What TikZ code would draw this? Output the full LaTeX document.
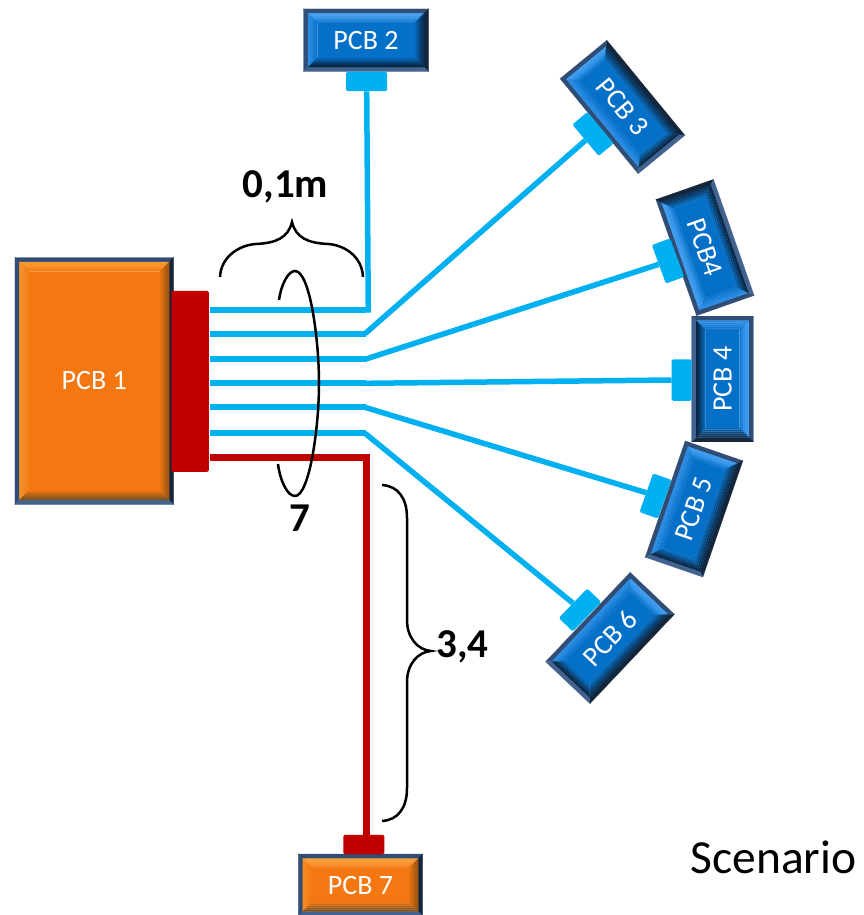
\documentclass[tikz,border=0pt]{standalone}
\usepackage{fontspec}
\setmainfont{Carlito}
\definecolor{wireblue}{HTML}{00B0F0}
\definecolor{wirered}{HTML}{C00000}
\definecolor{rimT}{HTML}{2F4D75}
\definecolor{rimL}{HTML}{2F4D75}
\definecolor{rimR}{HTML}{14263C}
\definecolor{rimB}{HTML}{426390}
\definecolor{blface}{HTML}{0570C8}
\definecolor{blT}{HTML}{3E9DF0}
\definecolor{blL}{HTML}{2A8CE4}
\definecolor{blR}{HTML}{0A3358}
\definecolor{blB}{HTML}{0A2744}
\definecolor{orface}{HTML}{F47711}
\definecolor{orT}{HTML}{FB9A30}
\definecolor{orL}{HTML}{F58A20}
\definecolor{orR}{HTML}{A05810}
\definecolor{orB}{HTML}{7E5420}
\tikzset{
  wireB/.style={draw=wireblue,line width=6pt},
  wireBthin/.style={draw=wireblue,line width=5.5pt},
  wireR/.style={draw=wirered,line width=6.5pt},
  plug/.style={rectangle,rounded corners=1.5pt,inner sep=0pt,minimum width=41pt,minimum height=19.5pt},
  plugB/.style={plug,fill=wireblue},
  plugR/.style={plug,fill=wirered},
  pcblabel/.style={text=white,inner sep=0pt,font=\fontsize{28}{30}\selectfont},
  curly/.style={draw=black,line width=2.5pt},
  dim/.style={text=black,inner sep=0pt,font=\fontsize{41}{44}\selectfont\bfseries}
}
\newcommand\pcbbox[9]{%
  \begin{scope}[shift={(#2,#3)},rotate=#6]
    \pgfmathsetmacro\W{#4/2}\pgfmathsetmacro\H{#5/2}
    \foreach \i/\j/\cT/\cL/\cR/\cB in {
      0/4.5/rimT/rimL/rimR/rimB,
      4.5/6.5/#8T/#8L/#8R/#8B,
      6.5/8.5/#8T!90!#8face/#8L!85!#8face/#8R!85!#8face/#8B!80!#8face,
      8.5/10.5/#8T!75!#8face/#8L!60!#8face/#8R!60!#8face/#8B!55!#8face,
      10.5/12.5/#8T!45!#8face/#8L!35!#8face/#8R!35!#8face/#8B!30!#8face,
      12.5/14/#8T!20!#8face/#8L!15!#8face/#8R!15!#8face/#8B!12!#8face}{
      \pgfmathsetmacro\xa{\W-\i}\pgfmathsetmacro\ya{\H-\i}
      \pgfmathsetmacro\xb{\W-\j}\pgfmathsetmacro\yb{\H-\j}
      \path[fill=\cT,draw=\cT,line width=.2pt] (-\xa,-\ya)--(\xa,-\ya)--(\xb,-\yb)--(-\xb,-\yb)--cycle;
      \path[fill=\cL,draw=\cL,line width=.2pt] (-\xa,-\ya)--(-\xa,\ya)--(-\xb,\yb)--(-\xb,-\yb)--cycle;
      \path[fill=\cR,draw=\cR,line width=.2pt] (\xa,-\ya)--(\xa,\ya)--(\xb,\yb)--(\xb,-\yb)--cycle;
      \path[fill=\cB,draw=\cB,line width=.2pt] (-\xa,\ya)--(\xa,\ya)--(\xb,\yb)--(-\xb,\yb)--cycle;
    }
    \pgfmathsetmacro\xc{\W-14}\pgfmathsetmacro\yc{\H-14}
    \fill[#8face] (-\xc,-\yc) rectangle (\xc,\yc);
  \end{scope}
  \node[pcblabel,rotate=#7] (#1) at (#2,#3) {#9};
}
\begin{document}
\begin{tikzpicture}[x=1pt,y=-1pt]
\useasboundingbox (0,0) rectangle (864,915);
% boards
\pcbbox{pcb1}{94.3}{381}{158.7}{247}{0}{0}{or}{PCB 1}
\pcbbox{pcb2}{366}{40.3}{125}{62.7}{0}{0}{bl}{PCB 2}
\pcbbox{pcb3}{622.5}{107}{60.5}{123}{39.4}{-50.6}{bl}{PCB 3}
\pcbbox{pcb4a}{705}{247.5}{123}{61}{109.3}{-70.7}{bl}{PCB4}
\pcbbox{pcb4b}{722.5}{379}{125.7}{61.6}{-90}{90}{bl}{PCB 4}
\pcbbox{pcb5}{694}{509}{61}{123}{-19}{71}{bl}{PCB 5}
\pcbbox{pcb6}{610}{638}{61}{123}{-43.4}{46.6}{bl}{PCB 6}
\pcbbox{pcb7}{360.5}{885}{124.4}{62}{0}{0}{or}{PCB 7}
% connectors on the boards
\node[plug,fill=wirered,minimum width=181pt,minimum height=37.5pt,rotate=90] (hub) at (190,381.3) {};
\node[plugB] (c2) at (366.7,81.5) {};
\node[plugB,rotate=-50] (c3) at (593,134) {};
\node[plugB,rotate=-70] (c4a) at (668,261) {};
\node[plugB,minimum width=41.5pt,minimum height=20pt,rotate=-90] (c4b) at (681.7,380) {};
\node[plugB,rotate=-109.4] (c5) at (655.5,496) {};
\node[plugB,rotate=-134] (c6) at (580,610) {};
\node[plugR] (c7) at (363.8,844.5) {};
% bus coordinates
\foreach \n/\yy in {1/309.7,2/333.7,3/359.3,4/383.3,5/407.3,6/433.3,7/457.3}{
  \coordinate (s\n) at (210,\yy);
  \coordinate (e\n) at (366,\yy);
}
\foreach \n in {1,...,6}{\draw[wireB] (s\n) -- (e\n);}
\coordinate (turn1) at (368.3,312.7);
\coordinate (turn7) at (366.7,457.3);
\coordinate (c7top) at (366.7,835);
\draw[wireBthin] (turn1) -- (c2.south);
\draw[wireBthin] (e2) ++(-1,0) -- (c3.south);
\draw[wireBthin] (e3) ++(-1,0) -- (c4a.south);
\draw[wireBthin] (e4) -- (c4b.south);
\draw[wireBthin] (e5) ++(-1,0) -- (c5.south);
\draw[wireBthin] (e6) ++(-1,0) -- (c6.south);
\draw[wireR] (s7) -- (turn7) -- (c7top);
% top brace
\coordinate (bt1) at (220,277);
\coordinate (bt2) at (292,222);
\coordinate (bt3) at (363,277);
\draw[curly] (bt1) .. controls (221,256) and (240,245) .. (256,244)
  .. controls (276,243) and (288,238) .. (bt2)
  .. controls (296,238) and (308,243) .. (328,244)
  .. controls (344,245) and (362,256) .. (bt3);
% ring round the seven cables
\coordinate (r1) at (279,300);
\coordinate (r2) at (295,271);
\coordinate (r3) at (319,383);
\coordinate (r4) at (295,496);
\coordinate (r5) at (278,464);
\draw[curly] (r1) .. controls (281,285) and (288,271) .. (r2)
  .. controls (310,271) and (319,340) .. (r3)
  .. controls (319,430) and (309,496) .. (r4)
  .. controls (287,496) and (280,480) .. (r5);
% right brace
\coordinate (br1) at (382,485);
\coordinate (br2) at (431,651);
\coordinate (br3) at (382,821);
\draw[curly] (br1) .. controls (398,486) and (407,498) .. (407,518)
  -- (407,620) .. controls (407,638) and (418,650) .. (br2)
  .. controls (418,652) and (407,664) .. (407,682)
  -- (407,788) .. controls (407,808) and (398,820) .. (br3);
% labels
\node[dim] (lab01) at (285.5,187) {0,1m};
\node[dim] (lab7) at (300,518) {7};
\node[dim] (lab34) at (462.5,647) {3,4};
\node[inner sep=0pt,font=\fontsize{47.5}{50}\selectfont] (scen) at (773.5,857) {Scenario};
\end{tikzpicture}
\end{document}
